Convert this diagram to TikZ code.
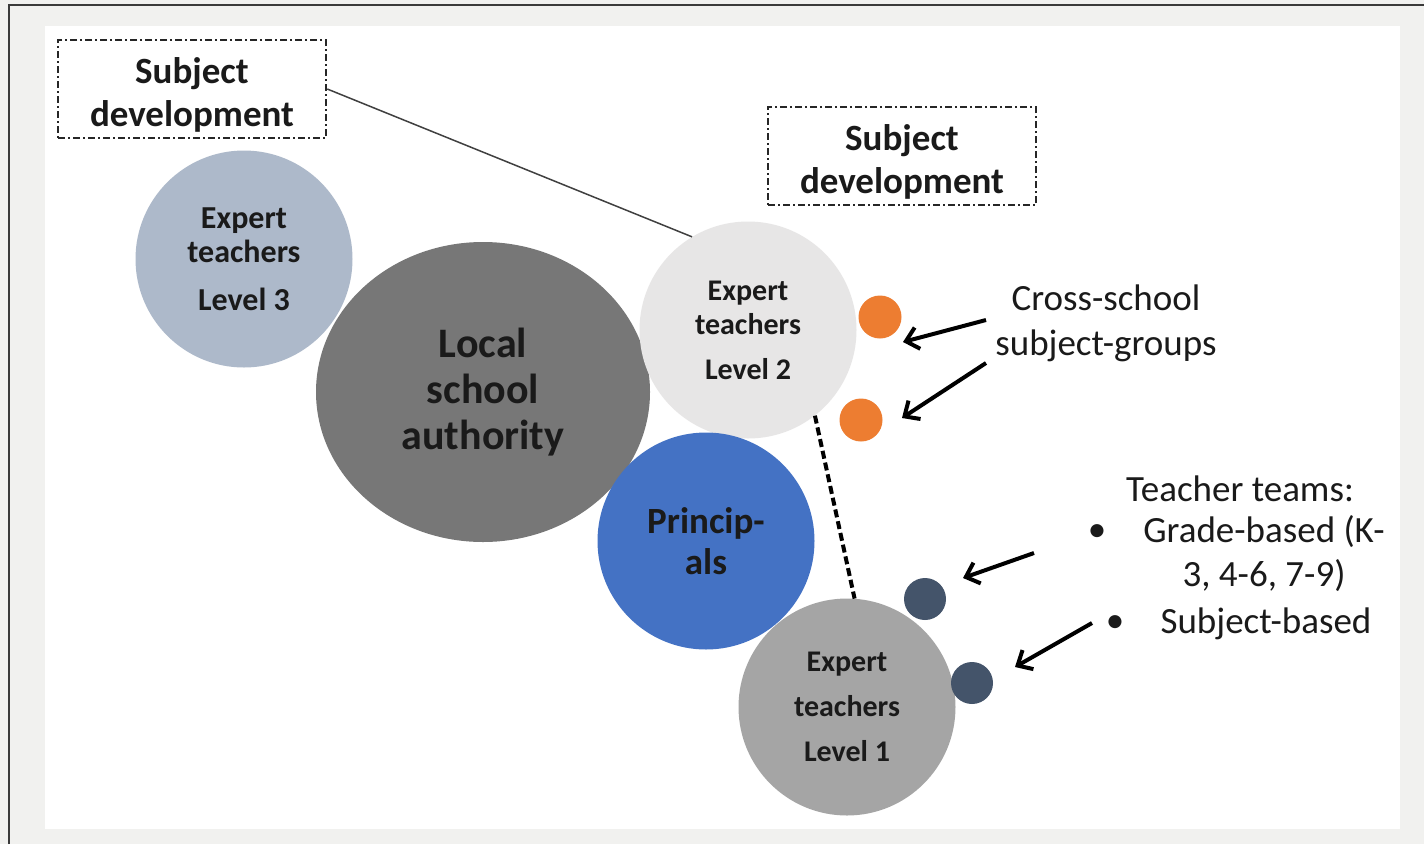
\documentclass[tikz,border=0pt]{standalone}
\usepackage{fontspec}
\setmainfont{Carlito}
\usetikzlibrary{arrows.meta,shapes.geometric}
\definecolor{bg}{HTML}{F1F1EF}
\definecolor{frameline}{HTML}{3A3A3A}
\definecolor{lvthree}{HTML}{ADB9CA}
\definecolor{lsa}{HTML}{777777}
\definecolor{lvtwo}{HTML}{E7E6E6}
\definecolor{princ}{HTML}{4472C4}
\definecolor{lvone}{HTML}{A5A5A5}
\definecolor{orangedot}{HTML}{ED7D31}
\definecolor{navydot}{HTML}{44546A}
\definecolor{txt}{HTML}{1A1A1A}
\tikzset{
  bigcircle/.style={circle, inner sep=0pt, minimum size=217pt, align=center, text=txt,
    font=\fontsize{30}{34}\selectfont\bfseries},
  dot/.style={circle, inner sep=0pt, minimum size=43pt},
  sdbox/.style={draw=black!85, line width=2.5pt,
    dash pattern=on 7pt off 3pt on 2pt off 3pt,
    minimum width=268pt, minimum height=98pt},
  sdtext/.style={align=center, text=txt, inner sep=0pt,
    font=\fontsize{37}{43}\selectfont\bfseries},
  arr/.style={line width=4pt, -{Straight Barb[length=12pt,width=22pt,line width=4pt]}},
  lbl/.style={text=txt, font=\fontsize{37}{45}\selectfont, align=center, inner sep=0pt},
  tlbl/.style={text=txt, font=\fontsize{37}{44}\selectfont, align=center, inner sep=0pt},
}
\begin{document}
\begin{tikzpicture}[x=1pt,y=-1pt]
\useasboundingbox (0,0) rectangle (1424,844);
\fill[bg] (0,0) rectangle (1424,844);
\fill[white] (45,26) rectangle (1400,829);
\draw[frameline, line width=2pt] (9,844) -- (9,5) -- (1424,5);

% boxes
\node[sdbox] (sd1) at (192,89) {};
\node[sdtext] (sd1t) at (192,95) {Subject\\development};
\node[sdbox] (sd2) at (902,156) {};
\node[sdtext] (sd2t) at (902,162) {Subject\\development};

% big circles
\node[bigcircle, font=\fontsize{32}{34}\selectfont\bfseries, fill=lvthree] (L3) at (244,259) {Expert\\teachers\\[14pt]Level 3};
\node[ellipse, inner sep=0pt, minimum width=334pt, minimum height=300pt, fill=lsa, align=center, text=txt,
  font=\fontsize{42}{46}\selectfont\bfseries] (LSA) at (483,392) {Local\\school\\authority};
\node[bigcircle, fill=lvtwo] (L2) at (748,330) {Expert\\teachers\\[11pt]Level 2};
\node[bigcircle, fill=princ, font=\fontsize{37}{41}\selectfont\bfseries] (PR) at (706,541) {Princip-\\als};
\node[bigcircle, fill=lvone, font=\fontsize{30}{45}\selectfont\bfseries] (L1) at (847,707) {Expert\\teachers\\Level 1};

% small dots
\node[dot, fill=orangedot] (o1) at (880,317) {};
\node[dot, fill=orangedot] (o2) at (861,420) {};
\node[dot, fill=navydot, minimum size=42pt] (n1) at (925,599) {};
\node[dot, fill=navydot, minimum size=42pt] (n2) at (972,683) {};

% connectors
\draw[black!75, line width=1.5pt] (sd1.east) -- (L2.121);
\draw[black, line width=4pt, dash pattern=on 8pt off 4pt] (L2.-52) -- (L1.86);

% labels
\node[lbl] (cs) at (1106,323) {Cross-school\\subject-groups};
\node[tlbl] (tt) at (1240,489) {Teacher teams:};
\node[tlbl] (b1) at (1097,533) {•};
\node[tlbl] (g1) at (1264,532) {Grade-based (K-};
\node[tlbl] (g2) at (1264,576) {3, 4-6, 7-9)};
\node[tlbl] (b2) at (1115,624) {•};
\node[tlbl] (g3) at (1266,624) {Subject-based};

% arrows
\coordinate (a1s) at (986,320);
\coordinate (a1e) at (903,342);
\coordinate (a2s) at (986,363);
\coordinate (a2e) at (902,418);
\coordinate (a3s) at (1034,553);
\coordinate (a3e) at (963,578);
\coordinate (a4s) at (1092,623);
\coordinate (a4e) at (1015,667);
\draw[arr] (a1s) -- (a1e);
\draw[arr] (a2s) -- (a2e);
\draw[arr] (a3s) -- (a3e);
\draw[arr] (a4s) -- (a4e);
\end{tikzpicture}
\end{document}
